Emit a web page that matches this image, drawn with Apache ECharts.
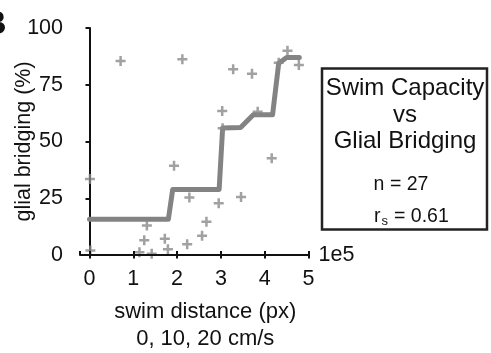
<!DOCTYPE html>
<html><head><meta charset="utf-8">
<script src="https://cdn.jsdelivr.net/npm/echarts@6/dist/echarts.min.js"></script>
<style>html,body{margin:0;padding:0;background:#fff}#c{width:491px;height:353px}</style>
</head><body><div id="c"></div>
<script>
// swim distance (px) and glial bridging (%) per animal
const swimDistance = [1000, 2000, 71000, 212000, 131000, 125000, 114000, 142000, 172000, 179000, 193000, 228000, 223000, 257000, 267000, 295000, 303000, 346000, 328000, 371000, 384000, 416000, 452000, 478000, 432000, 304000];
const bridging     = [33.5, 2, 85.5, 86.2, 13, 6.5, 1.2, 0.6, 7.2, 2.5, 39.3, 25.3, 4.7, 8.5, 14.7, 22.8, 63.4, 25.6, 81.8, 79.9, 63.1, 42.6, 90, 83.7, 84.7, 55.8];
// step-like trend line
const fitX = [0, 180000, 190000, 296000, 304000, 345000, 374000, 418000, 432000, 450000, 479000];
const fitY = [15.7, 15.7, 28.9, 28.9, 56.0, 56.2, 61.8, 61.8, 84.5, 87, 87];
const xTickLabels = ['0', '1', '2', '3', '4', '5'];
const yTicks = [0, 25, 50, 75, 100];

const FONT = 'Liberation Sans, Arial, sans-serif';
const INK = '#111';
const chart = echarts.init(document.getElementById('c'), null, {renderer: 'canvas'});
const X_MIN = -21700, X_MAX = 500000;
const plus = 'path://M3.75,0h2.5v3.75h3.75v2.5h-3.75v3.75h-2.5v-3.75h-3.75v-2.5h3.75z';

chart.setOption({
  animation: false,
  backgroundColor: '#fff',
  grid: {left: 80, right: 182.5, top: 28, bottom: 98, containLabel: false, outerBoundsMode: 'none'},
  xAxis: [{
    type: 'value', min: X_MIN, max: X_MAX, minInterval: 100000, maxInterval: 100000,
    position: 'bottom', z: 5,
    axisLine: {show: true, lineStyle: {color: INK, width: 2}},
    axisTick: {show: true, length: 3.5, lineStyle: {color: INK, width: 2}},
    splitLine: {show: false},
    axisLabel: {show: true, margin: 13, fontSize: 21.5, color: INK, fontFamily: FONT, showMinLabel: false,
      formatter: v => v < 0 ? '' : (xTickLabels[Math.round(v / 100000)] || '')},
    name: '1e5', nameLocation: 'end', nameGap: 10, nameMoveOverlap: false,
    nameTextStyle: {fontSize: 21.5, color: INK, fontFamily: FONT, verticalAlign: 'middle'}
  }, {
    type: 'value', min: X_MIN, max: X_MAX, minInterval: 100000, maxInterval: 100000,
    position: 'bottom', z: 5,
    axisLine: {show: false},
    axisTick: {show: true, inside: true, length: 4, lineStyle: {color: INK, width: 2}},
    axisLabel: {show: false}, splitLine: {show: false},
    name: 'swim distance (px)\n0, 10, 20 cm/s', nameLocation: 'middle', nameGap: 44, nameMoveOverlap: false,
    nameTextStyle: {fontSize: 22, lineHeight: 26.5, color: INK, fontFamily: FONT, padding: [0, 0, 0, 22]}
  }],
  yAxis: {
    type: 'value', min: yTicks[0], max: yTicks[yTicks.length - 1], interval: 25,
    axisLine: {show: true, lineStyle: {color: INK, width: 2}},
    axisTick: {show: true, length: 4, lineStyle: {color: INK, width: 2}},
    splitLine: {show: false},
    axisLabel: {show: true, margin: 17, fontSize: 21.5, color: INK, fontFamily: FONT},
    name: 'glial bridging (%)', nameLocation: 'middle', nameGap: 45, nameMoveOverlap: false,
    nameTextStyle: {fontSize: 21.5, color: INK, fontFamily: FONT}
  },
  series: [{
    type: 'line', xAxisIndex: 0, data: fitX.map((x, i) => [x, fitY[i]]),
    showSymbol: false, silent: true, z: 2,
    lineStyle: {color: '#838383', width: 5, cap: 'round', join: 'round'}
  }, {
    type: 'scatter', xAxisIndex: 0, data: swimDistance.map((x, i) => [x, bridging[i]]),
    symbol: plus, symbolSize: 10, z: 3,
    itemStyle: {color: '#8a8a8a'}
  }],
  graphic: [
    {type: 'text', left: -18, top: 8, style: {text: 'B', font: 'bold 34px ' + FONT, fill: INK}},
    {type: 'rect', shape: {x: 322, y: 68.5, width: 165, height: 161}, style: {fill: 'none', stroke: '#222', lineWidth: 2.5}},
    {type: 'text', x: 405, y: 88.6, style: {text: 'Swim Capacity', font: '24px ' + FONT, fill: INK, align: 'center', verticalAlign: 'middle'}},
    {type: 'text', x: 405, y: 115.3, style: {text: 'vs', font: '24px ' + FONT, fill: INK, align: 'center', verticalAlign: 'middle'}},
    {type: 'text', x: 405, y: 141.3, style: {text: 'Glial Bridging', font: '24px ' + FONT, fill: INK, align: 'center', verticalAlign: 'middle'}},
    {type: 'text', x: 401, y: 185, style: {text: 'n = 27', font: '19.5px ' + FONT, fill: INK, align: 'center', verticalAlign: 'middle'}},
    {type: 'text', x: 374, y: 216.5, style: {text: 'r', font: '19.5px ' + FONT, fill: INK, align: 'left', verticalAlign: 'middle'}},
    {type: 'text', x: 381.5, y: 221, style: {text: 's', font: '13px ' + FONT, fill: INK, align: 'left', verticalAlign: 'middle'}},
    {type: 'text', x: 394, y: 216.5, style: {text: '= 0.61', font: '19.5px ' + FONT, fill: INK, align: 'left', verticalAlign: 'middle'}}
  ]
});
</script>
</body></html>
